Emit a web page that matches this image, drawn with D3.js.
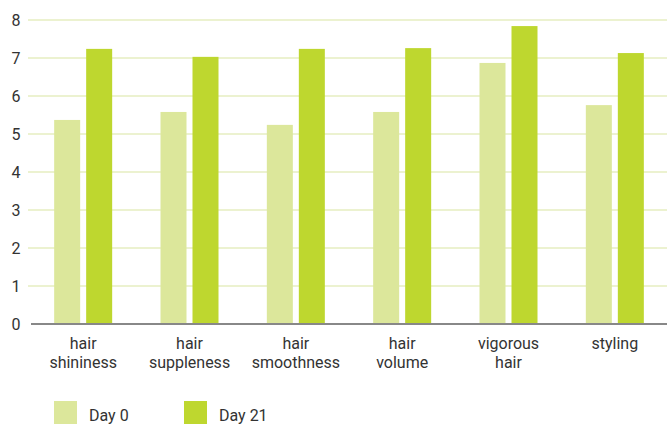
<!DOCTYPE html>
<html>
<head>
<meta charset="utf-8">
<script src="https://cdn.jsdelivr.net/npm/d3@7"></script>
<style>
  body { margin: 0; background: #fff; }
  text { font-family: Roboto, "DejaVu Sans", sans-serif; fill: #333; }
</style>
</head>
<body>
<svg id="chart" width="667" height="425"></svg>
<script>
var categories = [['hair', 'shininess'], ['hair', 'suppleness'], ['hair', 'smoothness'],
    ['hair', 'volume'], ['vigorous', 'hair'], ['styling']];
var day0 = [5.37, 5.58, 5.24, 5.58, 6.87, 5.76];
var day21 = [7.24, 7.03, 7.24, 7.26, 7.84, 7.13];
var seriesNames = ['Day 0', 'Day 21'];
var yTicks = [0, 1, 2, 3, 4, 5, 6, 7, 8];

var colors = ['#dce79b', '#bed72f'];

var svg = d3.select('#chart');

var x = d3.scaleBand()
    .domain(d3.range(categories.length))
    .range([30, 668]);

var y = d3.scaleLinear()
    .domain([0, 8])
    .range([324, 20]);

var barW = 26, gap = 6;

// gridlines
svg.append('g')
    .selectAll('line')
    .data(yTicks.slice(1))
    .enter()
    .append('line')
    .attr('x1', 28)
    .attr('x2', 667)
    .attr('y1', function (d) { return y(d); })
    .attr('y2', function (d) { return y(d); })
    .attr('stroke', '#e6eec0')
    .attr('stroke-width', 1.5);

// y tick labels
svg.append('g')
    .selectAll('text')
    .data(yTicks)
    .enter()
    .append('text')
    .attr('x', 16)
    .attr('y', function (d) { return y(d); })
    .attr('dy', '0.35em')
    .attr('text-anchor', 'middle')
    .attr('font-size', 16)
    .text(function (d) { return d; });

// bars
[day0, day21].forEach(function (vals, s) {
    svg.append('g')
        .selectAll('rect')
        .data(vals)
        .enter()
        .append('rect')
        .attr('x', function (d, i) {
            var c = x(i) + x.bandwidth() / 2;
            return s === 0 ? c - gap / 2 - barW : c + gap / 2;
        })
        .attr('y', function (d) { return y(d); })
        .attr('width', barW)
        .attr('height', function (d) { return y(0) - y(d); })
        .attr('fill', colors[s]);
});

// baseline
svg.append('line')
    .attr('x1', 31)
    .attr('x2', 667)
    .attr('y1', y(0))
    .attr('y2', y(0))
    .attr('stroke', '#888')
    .attr('stroke-width', 2);

// category labels
var labels = svg.append('g')
    .selectAll('text')
    .data(categories)
    .enter()
    .append('text')
    .attr('text-anchor', 'middle')
    .attr('font-size', 16)
    .attr('transform', function (d, i) {
        return 'translate(' + (x(i) + x.bandwidth() / 2) + ',349)';
    });

labels.selectAll('tspan')
    .data(function (d) { return d; })
    .enter()
    .append('tspan')
    .attr('x', 0)
    .attr('y', function (d, i) { return i * 19; })
    .text(function (d) { return d; });

// legend
var legend = svg.append('g')
    .selectAll('g')
    .data(seriesNames)
    .enter()
    .append('g')
    .attr('transform', function (d, i) { return 'translate(' + (54 + i * 130) + ',401)'; });

legend.append('rect')
    .attr('width', 23)
    .attr('height', 23)
    .attr('fill', function (d, i) { return colors[i]; });

legend.append('text')
    .attr('x', 35)
    .attr('y', 14)
    .attr('dy', '0.35em')
    .attr('font-size', 16)
    .text(function (d) { return d; });
</script>
</body>
</html>
